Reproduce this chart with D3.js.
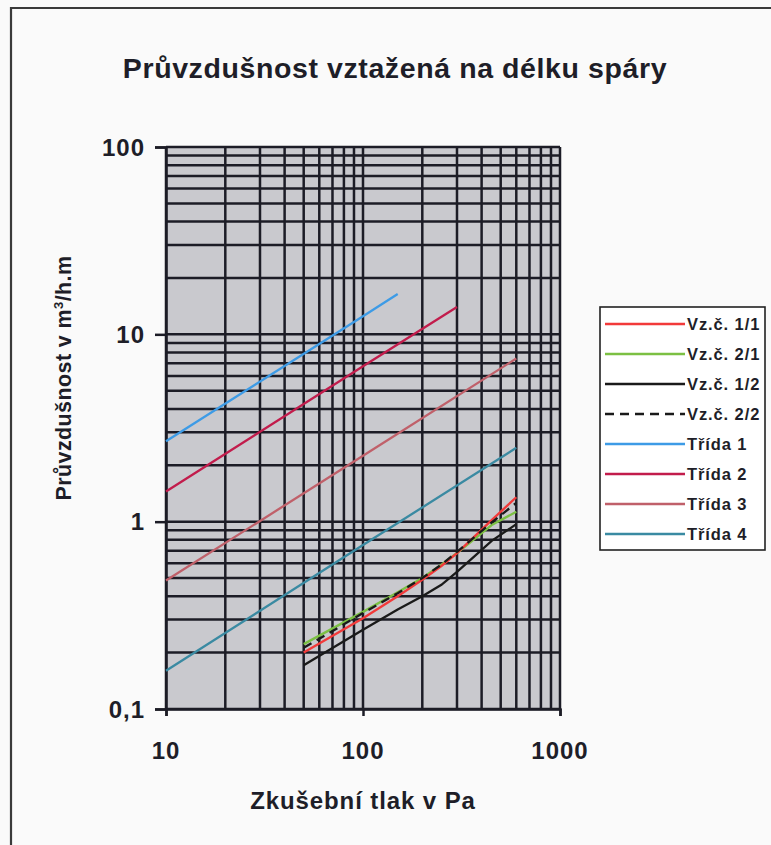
<!DOCTYPE html>
<html><head><meta charset="utf-8">
<script src="https://cdn.jsdelivr.net/npm/d3@7"></script>
<style>
html,body{margin:0;padding:0;background:#fafafa;}
svg{display:block;}
text{font-family:"Liberation Sans",Arial,sans-serif;font-weight:bold;fill:#1e1e28;}
</style></head>
<body>
<svg id="c" width="771" height="845"></svg>
<script>
// ---- data ----
const titleText = "Průvzdušnost vztažená na délku spáry";
const xTitle = "Zkušební tlak v Pa";
const yTitleMain = "Průvzdušnost v m";
const yTitleSup = "3";
const yTitleEnd = "/h.m";
const xTickValues = [10, 100, 1000];
const xTickLabels = ["10", "100", "1000"];
const yTickValues = [0.1, 1, 10, 100];
const yTickLabels = ["0,1", "1", "10", "100"];

const testPressures = [50, 100, 150, 200, 250, 300, 450, 600];
const vz11 = [0.20, 0.305, 0.40, 0.49, 0.58, 0.68, 1.02, 1.35];
const vz21 = [0.222, 0.33, 0.42, 0.50, 0.59, 0.68, 0.96, 1.13];
const vz12 = [0.171, 0.265, 0.34, 0.40, 0.46, 0.54, 0.79, 0.97];
const vz22 = [0.212, 0.325, 0.415, 0.50, 0.59, 0.69, 0.99, 1.26];

const class1P = [10, 100, 150];
const class1V = [2.69, 12.5, 16.4];
const class2P = [10, 100, 300];
const class2V = [1.45, 6.75, 14.0];
const class3P = [10, 100, 600];
const class3V = [0.485, 2.25, 7.43];
const class4P = [10, 100, 600];
const class4V = [0.16, 0.75, 2.48];

const seriesNames = ["Vz.č. 1/1", "Vz.č. 2/1", "Vz.č. 1/2", "Vz.č. 2/2", "Třída 1", "Třída 2", "Třída 3", "Třída 4"];
const seriesColors = ["#f23a3a", "#7cc043", "#1a1a1a", "#1a1a1a", "#3d9be6", "#c21c4c", "#c0606a", "#3a8aa2"];
const seriesDash = [null, null, null, "9,6", null, null, null, null];

const seriesData = [
  [testPressures, vz11], [testPressures, vz21], [testPressures, vz12], [testPressures, vz22],
  [class1P, class1V], [class2P, class2V], [class3P, class3V], [class4P, class4V]
];

// ---- drawing ----
const svg = d3.select("#c");
svg.append("rect").attr("x", 0).attr("y", 0).attr("width", 771).attr("height", 845).attr("fill", "#fafafa");
// frame
svg.append("path").attr("d", "M11,845 L11,8 L771,8").attr("fill", "none").attr("stroke", "#3a3a3a").attr("stroke-width", 2.2);

const plot = {left: 166, right: 560, top: 147, bottom: 709};
const x = d3.scaleLog().domain([10, 1000]).range([plot.left, plot.right]);
const y = d3.scaleLog().domain([0.1, 100]).range([plot.bottom, plot.top]);

svg.append("rect").attr("x", plot.left).attr("y", plot.top)
  .attr("width", plot.right - plot.left).attr("height", plot.bottom - plot.top)
  .attr("fill", "#c9c9ce");

// grid
const gridColor = "#1c1c26";
const gw = 2.5;
const g = svg.append("g");
g.selectAll("line.vx").data(x.ticks()).join("line")
  .attr("x1", d => x(d)).attr("x2", d => x(d))
  .attr("y1", plot.top).attr("y2", plot.bottom)
  .attr("stroke", gridColor).attr("stroke-width", gw);
g.selectAll("line.hy").data(y.ticks()).join("line")
  .attr("y1", d => y(d)).attr("y2", d => y(d))
  .attr("x1", plot.left).attr("x2", plot.right)
  .attr("stroke", gridColor).attr("stroke-width", gw);

// axes
const xAxis = d3.axisBottom(x).tickValues(xTickValues).tickSize(7).tickFormat("");
const yAxis = d3.axisLeft(y).tickValues(yTickValues).tickSize(11).tickFormat("");
svg.append("g").attr("transform", `translate(0,${plot.bottom})`).call(xAxis)
  .call(s => s.selectAll("path,line").attr("stroke", gridColor).attr("stroke-width", gw));
svg.append("g").attr("transform", `translate(${plot.left},0)`).call(yAxis)
  .call(s => s.selectAll("path,line").attr("stroke", gridColor).attr("stroke-width", gw));

// tick labels
svg.selectAll("text.xt").data(xTickValues).join("text")
  .attr("x", d => x(d)).attr("y", 759).attr("text-anchor", "middle")
  .style("font-size", "24px").style("letter-spacing", "1px")
  .text((d, i) => xTickLabels[i]);
svg.selectAll("text.yt").data(yTickValues).join("text")
  .attr("x", 145).attr("y", d => y(d) + 8.5).attr("text-anchor", "end")
  .style("font-size", "24px").style("letter-spacing", "1px")
  .text((d, i) => yTickLabels[i]);

// series lines
const line = d3.line().x(d => x(d[0])).y(d => y(d[1]));
const order = [7, 6, 5, 4, 2, 1, 0, 3];
order.forEach(i => {
  const [ps, vs] = seriesData[i];
  const pts = ps.map((p, k) => [p, vs[k]]);
  svg.append("path").datum(pts).attr("d", line)
    .attr("fill", "none").attr("stroke", seriesColors[i]).attr("stroke-width", 2.3)
    .attr("stroke-dasharray", seriesDash[i]);
});

// title
svg.append("text").attr("x", 395).attr("y", 78).attr("text-anchor", "middle")
  .style("font-size", "28.5px").style("letter-spacing", "0.6px").text(titleText);
// x title
svg.append("text").attr("x", 363).attr("y", 809).attr("text-anchor", "middle")
  .style("font-size", "24px").style("letter-spacing", "0.9px").text(xTitle);
// y title
const yt = svg.append("text").attr("transform", "translate(71,378) rotate(-90)")
  .attr("text-anchor", "middle").style("font-size", "21.5px").style("letter-spacing", "0.4px");
yt.append("tspan").text(yTitleMain);
yt.append("tspan").attr("dy", -8).style("font-size", "13px").text(yTitleSup);
yt.append("tspan").attr("dy", 8).text(yTitleEnd);

// legend
const lg = svg.append("g");
lg.append("rect").attr("x", 600).attr("y", 307).attr("width", 165).attr("height", 243)
  .attr("fill", "#ffffff").attr("stroke", "#222").attr("stroke-width", 1.6);
const rowY = d3.scalePoint().domain(seriesNames).range([324, 534]);
seriesNames.forEach((n, i) => {
  lg.append("line").attr("x1", 605).attr("x2", 685).attr("y1", rowY(n)).attr("y2", rowY(n))
    .attr("stroke", seriesColors[i]).attr("stroke-width", 2.3).attr("stroke-dasharray", seriesDash[i]);
  lg.append("text").attr("x", 687).attr("y", rowY(n) + 6)
    .style("font-size", "16.5px").style("letter-spacing", "0.9px").text(n);
});
</script>
</body></html>
